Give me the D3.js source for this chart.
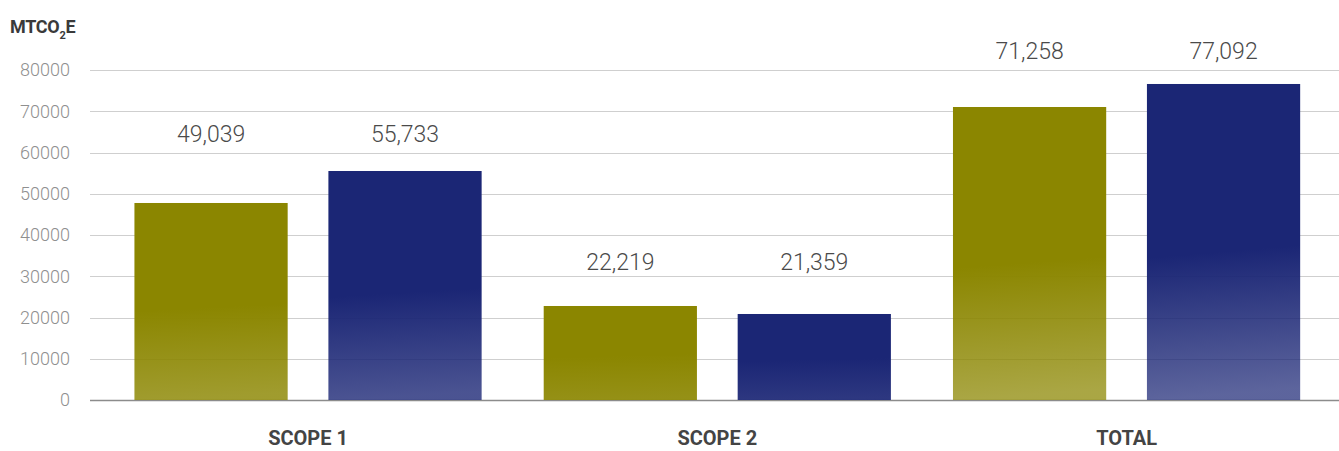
<!DOCTYPE html>
<html><head><meta charset="utf-8">
<script src="https://cdn.jsdelivr.net/npm/d3@7"></script>
<style>body{margin:0;background:#fff}svg{display:block}</style>
</head><body>
<svg id="c" width="1339" height="451"></svg>
<script>
const categories = ["SCOPE 1", "SCOPE 2", "TOTAL"];
const series = ["Series 1", "Series 2"];
// bar heights as drawn in the picture
const barValues1 = [47760, 22790, 71030];
const barValues2 = [55515, 20850, 76610];
// printed data labels
const labelValues1 = [49039, 22219, 71258];
const labelValues2 = [55733, 21359, 77092];
const yTicks = [0, 10000, 20000, 30000, 40000, 50000, 60000, 70000, 80000];
const colors = ["#8b8600", "#1b2675"];

const svg = d3.select("#c");
const W = 1339;
const y = d3.scaleLinear().domain([0, 80000]).range([400, 70]);
const x0 = d3.scaleBand().domain(categories).range([103.4, 1331.2]).padding(0);
const x1 = d3.scaleBand().domain(series).range([0, x0.bandwidth()]).paddingInner(0.21).paddingOuter(0.16);

// gridlines
svg.append("g").selectAll("line").data(yTicks).join("line")
  .attr("x1", 90).attr("x2", W)
  .attr("y1", d => Math.round(y(d)) + 0.5).attr("y2", d => Math.round(y(d)) + 0.5)
  .attr("stroke", d => d === 0 ? "#8c8c8c" : "#cfcfcf").attr("stroke-width", d => d === 0 ? 1.5 : 1.2);

// y tick labels
svg.append("g").selectAll("text").data(yTicks).join("text")
  .attr("x", 70).attr("y", d => y(d)).attr("dy", "0.36em")
  .attr("text-anchor", "end")
  .style("font-family", "Roboto, sans-serif").style("font-size", "18px").style("font-weight", 300)
  .attr("fill", "#8f8f8f").text(d => d);

// title
const t = svg.append("text").attr("x", 10).attr("y", 33)
  .style("font-family", "Roboto, sans-serif").style("font-weight", 700).style("font-size", "18px")
  .attr("fill", "#3a3a3a").attr("letter-spacing", "-0.3");
t.append("tspan").text("MTCO");
t.append("tspan").attr("dy", 6).style("font-size", "11px").text("2");
t.append("tspan").attr("dy", -6).text("E");

const rows = categories.map((c, i) => ({
  cat: c,
  bars: [
    { s: series[0], v: barValues1[i], l: labelValues1[i], ci: 0, id: "g0_" + i },
    { s: series[1], v: barValues2[i], l: labelValues2[i], ci: 1, id: "g1_" + i }
  ]
}));
const fmt = d3.format(",");
const maxH = y(0) - y(80000);

// per-bar gradient: fade deeper for taller bars
const defs = svg.append("defs");
rows.forEach(r => r.bars.forEach(b => {
  const h = y(0) - y(b.v);
  const g = defs.append("linearGradient").attr("id", b.id)
    .attr("x1", 0).attr("y1", 0).attr("x2", 0.04).attr("y2", 1);
  g.append("stop").attr("offset", 0).attr("stop-color", colors[b.ci]).attr("stop-opacity", 1);
  g.append("stop").attr("offset", 0.55).attr("stop-color", colors[b.ci]).attr("stop-opacity", 1);
  g.append("stop").attr("offset", 1).attr("stop-color", colors[b.ci]).attr("stop-opacity", 1 - 0.3 * h / maxH);
}));

const groups = svg.append("g").selectAll("g").data(rows).join("g")
  .attr("transform", d => `translate(${x0(d.cat)},0)`);

groups.selectAll("rect").data(d => d.bars).join("rect")
  .attr("x", d => x1(d.s)).attr("width", x1.bandwidth())
  .attr("y", d => y(d.v)).attr("height", d => y(0) - y(d.v))
  .attr("fill", d => `url(#${d.id})`);

groups.each(function(d) {
  const top = y(d3.max(d.bars, b => b.v));
  const gap = 25 + (top - y(77000)) * 0.05;
  d3.select(this).selectAll("text.val").data(d.bars).join("text").attr("class", "val")
    .attr("x", b => x1(b.s) + x1.bandwidth() / 2).attr("y", top - gap)
    .attr("text-anchor", "middle")
    .style("font-family", "Roboto, sans-serif").style("font-weight", 300).style("font-size", "23px")
    .attr("fill", "#4a4a4a").text(b => fmt(b.l));
});

// category labels
svg.append("g").selectAll("text").data(categories).join("text")
  .attr("x", d => x0(d) + x0.bandwidth() / 2).attr("y", 445)
  .attr("text-anchor", "middle")
  .style("font-family", "Roboto, sans-serif").style("font-weight", 700).style("font-size", "20px")
  .attr("fill", "#444").text(d => d);
</script>
</body></html>
